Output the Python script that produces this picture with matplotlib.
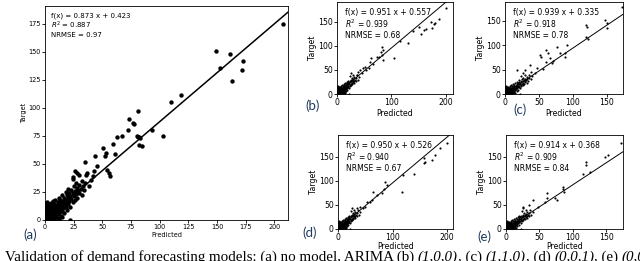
import matplotlib
matplotlib.use("Agg")
import matplotlib.pyplot as plt
from matplotlib.transforms import offset_copy

# dense cluster near the origin (same test targets for every model)
cluster_pred = [0, 0, 0, 0, 0, 0, 1, 1, 1, 1, 2, 2, 2, 2, 2, 3, 3, 3, 3, 4, 4, 4, 4,
                5, 5, 5, 5, 6, 6, 6, 6, 7, 7, 7, 7, 8, 8, 8, 8, 9, 9, 9, 9, 10, 10, 10,
                11, 11, 11, 12, 12, 12, 12, 13, 13, 13, 14, 14, 14, 15, 15, 15, 16, 16,
                17, 17, 17, 18, 18, 18, 19, 19, 19, 20, 20, 20, 21, 21, 22, 22, 23, 23,
                24, 24, 25, 25, 26, 26, 27, 27, 28, 28, 29, 30, 30, 31, 32, 32, 33, 34,
                35, 36, 38, 40, 22, 12, 15, 26, 30, 24, 3, 6, 9, 1, 4, 7, 10, 2, 5, 8,
                1, 3, 5, 7, 9, 11, 13, 2, 4, 6, 8, 10, 12, 14, 16, 18]
cluster_target = [0, 3, 6, 9, 12, 15, 1, 4, 8, 13, 0, 3, 6, 10, 16, 1, 5, 9, 14, 0, 3, 7, 11,
                  2, 6, 10, 15, 1, 4, 8, 12, 3, 7, 11, 17, 2, 5, 9, 14, 0, 6, 10, 18, 3, 8, 13,
                  5, 11, 16, 2, 9, 14, 20, 7, 12, 18, 4, 10, 16, 8, 13, 22, 11, 17,
                  6, 14, 20, 12, 18, 25, 9, 16, 22, 14, 20, 28, 17, 24, 12, 21, 19, 27,
                  16, 24, 21, 30, 18, 26, 23, 33, 20, 29, 26, 24, 31, 28, 22, 35, 30, 27,
                  33, 40, 30, 36, 0, 0, 3, 44, 40, 38, 2, 2, 4, 2, 1, 5, 6, 7, 4, 11,
                  10, 12, 13, 9, 12, 8, 15, 7, 9, 10, 6, 5, 11, 13, 14, 15]

# (a) no model
a_pred = [208, 149, 161, 153, 173, 172, 163, 119, 110, 93, 103, 81, 73, 77, 78, 72, 80, 81,
          82, 83, 82, 85, 63, 67, 59, 61, 51, 53, 52, 44, 45, 43, 35, 37, 54, 56, 57, 42, 28, 24]
a_target = [175, 151, 148, 136, 142, 134, 124, 112, 105, 80, 75, 97, 90, 87, 86, 80, 75, 74,
            74, 73, 67, 66, 74, 75, 68, 59, 64, 60, 57, 57, 48, 44, 52, 42, 45, 42, 39, 39, 42, 37]
# (b) ARIMA (1,0,0)
b_pred = [200, 188, 180, 174, 164, 160, 140, 150, 155, 172, 178, 115, 130, 105, 82, 85, 80,
          82, 85, 78, 74, 62, 60, 51, 54, 48, 42, 39, 36, 45, 58, 66]
b_target = [178, 155, 147, 136, 134, 133, 130, 140, 125, 150, 145, 110, 105, 75, 97, 92, 88,
            81, 70, 76, 77, 74, 67, 57, 50, 53, 50, 46, 39, 44, 55, 62]
# (c) ARIMA (1,1,0)
c_pred = [172, 148, 150, 120, 121, 120, 123, 91, 89, 89, 81, 77, 61, 64, 66, 71, 69, 60,
          52, 53, 47, 39, 30, 17, 37, 150, 44, 56]
c_target = [179, 152, 145, 142, 137, 118, 112, 101, 85, 77, 84, 97, 90, 84, 73, 68, 63, 66,
            80, 75, 53, 46, 49, 49, 60, 135, 44, 52]
# (d) ARIMA (0,0,1)
d_pred = [200, 187, 178, 173, 160, 158, 157, 139, 120, 117, 87, 89, 84, 81, 72, 64, 62, 53,
          50, 41, 35, 45, 58]
d_target = [178, 167, 153, 143, 140, 136, 147, 115, 112, 77, 98, 91, 84, 74, 70, 77, 60, 57,
            46, 46, 43, 44, 55]
# (e) ARIMA (0,0,...)
e_pred = [172, 152, 148, 120, 120, 125, 115, 86, 85, 87, 73, 76, 61, 58, 41, 34, 26, 61, 48]
e_target = [178, 153, 150, 140, 133, 119, 115, 88, 82, 77, 64, 60, 64, 57, 60, 50, 46, 74, 45]

panels = [
    # label, pred, target, slope, intercept, r2, nrmse, xmax, ymax, xticks, yticks
    ("(a)", a_pred, a_target, 0.873, 0.423, 0.887, 0.97, 212, 191,
     [0, 25, 50, 75, 100, 125, 150, 175, 200], [0, 25, 50, 75, 100, 125, 150, 175]),
    ("(b)", b_pred, b_target, 0.951, 0.557, 0.939, 0.68, 213, 191,
     [0, 100, 200], [0, 50, 100, 150]),
    ("(c)", c_pred, c_target, 0.939, 0.335, 0.918, 0.78, 174, 189,
     [0, 50, 100, 150], [0, 50, 100, 150]),
    ("(d)", d_pred, d_target, 0.950, 0.526, 0.940, 0.67, 211, 195,
     [0, 100, 200], [0, 50, 100, 150]),
    ("(e)", e_pred, e_target, 0.914, 0.368, 0.909, 0.84, 175, 195,
     [0, 50, 100, 150], [0, 50, 100, 150]),
]

caption_parts = [
    ("Validation of demand forecasting models: (a) no model, ARIMA (b) ", "normal"),
    ("(1,0,0)", "italic"), (", (c) ", "normal"), ("(1,1,0)", "italic"),
    (", (d) ", "normal"), ("(0,0,1)", "italic"), (", (e) ", "normal"), ("(0,0,2)", "italic"),
]

W, H = 640, 261
boxes = [(45, 288, 6, 220), (337, 453, 2, 94), (505, 623, 2, 94),
         (338, 453, 135, 229), (506, 623, 135, 229)]
label_pos = [(23, 235), (305, 106), (513, 110), (302, 233), (477, 237)]
label_color = "#203a5c"

fig = plt.figure(figsize=(6.4, 2.61), dpi=100)

for i, (lab, px, ty, k, b0, r2, nr, xmax, ymax, xt, yt) in enumerate(panels):
    l, r, t, bt = boxes[i]
    ax = fig.add_axes([l / W, (H - bt) / H, (r - l) / W, (bt - t) / H])
    big = i == 0
    fs = 4.7 if big else 5.6
    ax.scatter(cluster_pred + px, cluster_target + ty, s=10 if big else 2.4,
               c="black", lw=0, zorder=2)
    ax.plot([0, xmax], [b0, k * xmax + b0], color="black", lw=1.1 if big else 0.7, zorder=3)
    ax.set_xlim(0, xmax)
    ax.set_ylim(0, ymax)
    ax.set_xticks(xt)
    ax.set_yticks(yt)
    ax.tick_params(labelsize=fs, length=2, width=0.6, pad=1)
    ax.set_xlabel("Predicted", fontsize=fs, labelpad=1 if i < 3 else 0)
    ax.set_ylabel("Target", fontsize=fs, labelpad=1)
    for sp in ax.spines.values():
        sp.set_linewidth(0.6)
    note = f"f(x) = {k:.3f} x + {b0:.3f}\n$R^2$ = {r2:.3f}\nNRMSE = {nr:.2f}"
    ax.text(0.025 if big else 0.07, 0.97 if big else 0.94, note, transform=ax.transAxes,
            va="top", ha="left", fontsize=5.0 if big else 5.5, linespacing=1.1)
    fig.text(label_pos[i][0] / W, (H - label_pos[i][1]) / H, lab, fontsize=9.5,
             family="Lato", color=label_color, va="center", ha="left")

# caption, clipped at the bottom and the right like the source image
renderer = fig.canvas.get_renderer()
trans = fig.transFigure
x0, y0 = 5 / W, (H - 261) / H
for txt, style in caption_parts:
    t = fig.text(x0, y0, txt, fontsize=10.8, family="Liberation Serif", style=style,
                 ha="left", va="baseline", transform=trans)
    w = t.get_window_extent(renderer).width
    trans = offset_copy(trans, fig=fig, x=w, y=0, units="dots")

fig.savefig("out.png", dpi=100)
